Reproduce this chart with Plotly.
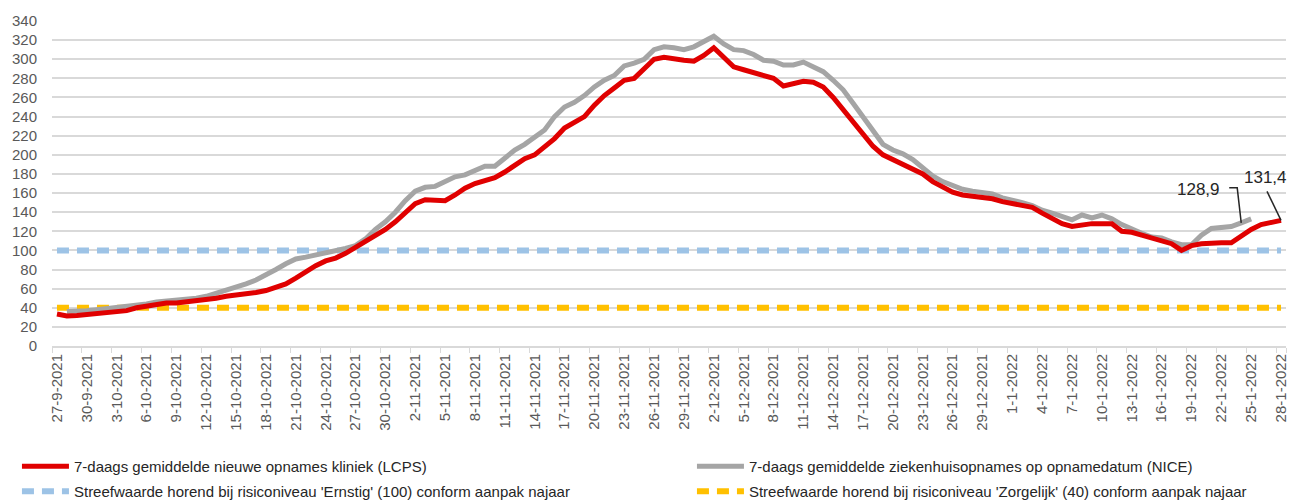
import datetime as dt
import plotly.graph_objects as go

start = dt.date(2021, 9, 27)
dates = [f"{d.day}-{d.month}-{d.year}" for d in (start + dt.timedelta(days=i) for i in range(124))]

lcps = [33.5, 31.5, 32, 33, 34, 34, 35, 37, 40, 42,
        43, 45, 45, 46, 47, 48, 50, 52, 53, 54,
        56, 58, 61, 65, 71, 78, 84, 89, 92, 97,
        103, 110, 116, 122, 130, 140, 149, 153, 152, 152,
        158, 165, 170, 173, 176, 182, 189, 196, 200, 208,
        217, 228, 234, 240, 252, 262, 270, 278, 280, 290,
        300, 302, 300, 299, 298, 304, 312, 302, 292, 289,
        286, 282, 280, 272, 274, 277, 276, 271, 260, 247,
        234, 222, 209, 200, 195, 191, 185, 180, 172, 166,
        161, 158, 157, 156, 154, 151, 149, 147, 145, 139,
        133, 128, 125, 127, 128, 128, 128, 120, 119, 116,
        113, 110, 107, 100, 105, 107, 108, 108, 108, 115,
        122, 127, 129, 131.4]

nice = [None, 36, 36, 37, 38, 39, 40, 42, 43, 44,
        46, 47, 47, 48, 50, 52, 55, 58, 62, 65,
        69, 74, 80, 86, 91, 93, 95, 97, 100, 102,
        105, 112, 122, 130, 140, 152, 162, 166, 167, 172,
        177, 179, 184, 188, 188, 196, 205, 211, 218, 226,
        240, 250, 255, 262, 271, 278, 283, 293, 296, 300,
        310, 313, 312, 310, 313, 319, 324, 316, 310, 309,
        305, 299, 298, 294, 294, 297, 292, 287, 278, 268,
        254, 240, 224, 211, 205, 201, 195, 187, 178, 172,
        168, 164, 162, 161, 159, 155, 153, 150, 147, 142,
        139, 135, 132, 137, 134, 137, 133, 127, 122, 118,
        114, 113, 109, 106, 106, 116, 123, 124, 125, 128.9,
        133]

ernstig = [100] * len(dates)
zorgelijk = [40] * len(dates)

names = [
    "7-daags gemiddelde nieuwe opnames kliniek (LCPS)",
    "7-daags gemiddelde ziekenhuisopnames op opnamedatum (NICE)",
    "Streefwaarde horend bij risiconiveau 'Ernstig' (100) conform aanpak najaar",
    "Streefwaarde horend bij risiconiveau 'Zorgelijk' (40) conform aanpak najaar",
]

label_nice = "128,9"
label_lcps = "131,4"
i_nice_label = 119
i_lcps_label = 123

yticks = list(range(0, 341, 20))
FONT = "Liberation Sans"

fig = go.Figure()
fig.add_trace(go.Scatter(x=dates, y=ernstig, mode="lines", name=names[2], legend="legend3",
                         line=dict(color="#9DC3E6", width=6, dash="12px,8px")))
fig.add_trace(go.Scatter(x=dates, y=zorgelijk, mode="lines", name=names[3], legend="legend4",
                         line=dict(color="#FFC000", width=6, dash="12px,8px")))
fig.add_trace(go.Scatter(x=dates[:len(nice)], y=nice, mode="lines", name=names[1], legend="legend2",
                         line=dict(color="#A5A5A5", width=5)))
fig.add_trace(go.Scatter(x=dates, y=lcps, mode="lines", name=names[0], legend="legend",
                         line=dict(color="#E00000", width=5)))

# data labels with leader lines
fig.add_annotation(x=dates[i_nice_label], y=nice[i_nice_label], text=label_nice, showarrow=False,
                   xanchor="right", yanchor="middle", xshift=-19, yshift=33,
                   font=dict(size=17, color="#262626", family=FONT))
fig.add_shape(type="path", xref="x", yref="y", xsizemode="pixel", ysizemode="pixel",
              xanchor=i_nice_label, yanchor=nice[i_nice_label],
              path="M-12,35 L-4,35 L0,0", line=dict(color="#262626", width=1.5))
fig.add_annotation(x=dates[i_lcps_label], y=lcps[i_lcps_label], text=label_lcps, showarrow=False,
                   xanchor="right", yanchor="middle", xshift=8, yshift=43,
                   font=dict(size=17, color="#262626", family=FONT))
fig.add_shape(type="path", xref="x", yref="y", xsizemode="pixel", ysizemode="pixel",
              xanchor=i_lcps_label, yanchor=lcps[i_lcps_label],
              path="M-14,29 L0,0", line=dict(color="#262626", width=1.5))

leg_common = dict(orientation="h", xanchor="left", yanchor="top", itemwidth=47,
                  font=dict(size=15, color="#262626", family=FONT),
                  bgcolor="rgba(0,0,0,0)")

fig.update_layout(
    width=1290, height=504,
    margin=dict(l=52, r=4, t=21, b=158, autoexpand=False),
    plot_bgcolor="white", paper_bgcolor="white",
    font=dict(family=FONT, size=15, color="#595959"),
    showlegend=True,
    legend=dict(x=-0.0284, y=-0.32, **leg_common),
    legend2=dict(x=0.5186, y=-0.32, **leg_common),
    legend3=dict(x=-0.0284, y=-0.397, **leg_common),
    legend4=dict(x=0.5186, y=-0.397, **leg_common),
    xaxis=dict(type="category", range=[-0.5, 123.5], tickmode="array",
               tickvals=dates[::3], ticktext=dates[::3], tickangle=-90,
               tickson="boundaries", ticks="outside", ticklen=5, tickcolor="#D9D9D9",
               showgrid=False, showline=True, linecolor="#D9D9D9", linewidth=2,
               automargin=False, tickfont=dict(size=15, color="#595959")),
    yaxis=dict(range=[0, 340], tickmode="array", tickvals=yticks,
               showgrid=True, gridcolor="#D9D9D9", gridwidth=2,
               zeroline=False, ticks="", ticklabelstandoff=14, automargin=False,
               tickfont=dict(size=15, color="#595959")),
)

fig.write_html("out.html", config={"displayModeBar": False},
               post_script="document.body.style.margin='0';")
